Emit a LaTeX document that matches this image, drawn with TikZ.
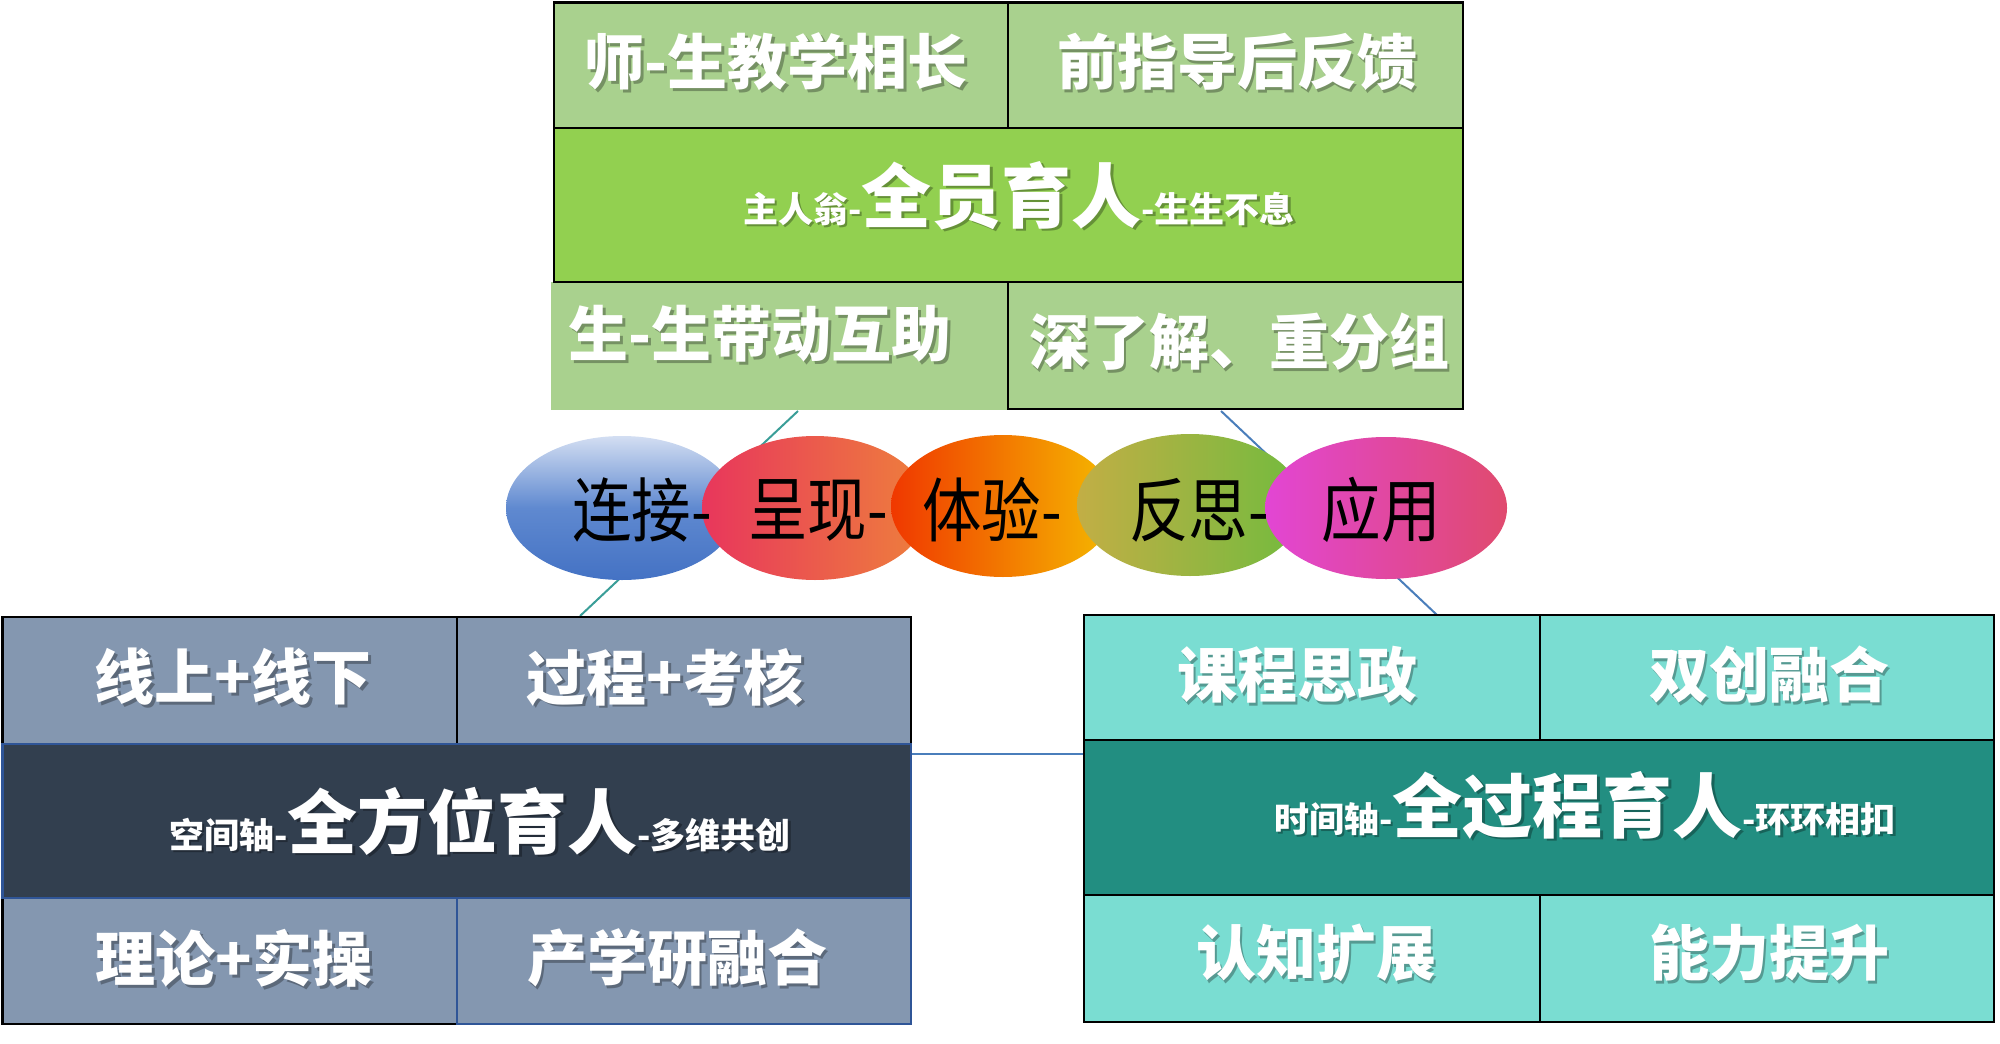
\documentclass[tikz,border=0pt]{standalone}
\usepackage{fontspec}
\newfontfamily\cjk{Noto Sans CJK SC}
\newfontfamily\cjkn[FakeStretch=0.85]{Noto Sans CJK SC}
\usetikzlibrary{shapes.geometric}
\definecolor{lgreen}{HTML}{A9D18E}
\definecolor{mgreen}{HTML}{92D050}
\definecolor{lslate}{HTML}{8497B0}
\definecolor{dslate}{HTML}{323F4F}
\definecolor{lteal}{HTML}{7ADDD2}
\definecolor{dteal}{HTML}{228E81}
\definecolor{lnteal}{HTML}{3A9E98}
\definecolor{lnblue}{HTML}{4A7EBB}
\definecolor{bordblue}{HTML}{2F5597}
\definecolor{bluetop}{HTML}{D3DEF2}
\definecolor{bluemid}{HTML}{5F89D0}
\definecolor{bluebot}{HTML}{4472C4}
\newcommand\smz{\fontsize{17.5}{18}\selectfont}
\newcommand\bgz{\fontsize{35}{36}\selectfont}
\newcommand\shtxt[4][center]{%
  \node[txtshadow,anchor=#1] at ([xshift=1.4pt,yshift=-1.4pt]#3) {#4};
  \node[txtmain,anchor=#1] (#2) at (#3) {#4};}
\tikzset{
  txtmain/.style={inner sep=0pt,text=white,font=\cjk\bfseries\fontsize{30}{31}\selectfont},
  txtshadow/.style={inner sep=0pt,text=black,opacity=0.3,font=\cjk\bfseries\fontsize{30}{31}\selectfont},
  cellb/.style={draw=black,line width=1.2pt},
  ovaltxt/.style={inner sep=0pt,text=black,font=\cjkn\fontsize{35}{36}\selectfont},
  link/.style={line width=1pt}
}
\begin{document}
\begin{tikzpicture}[x=0.5pt,y=-0.5pt]
\useasboundingbox (0,0) rectangle (2000,1043);
\fill[white] (0,0) rectangle (2000,1043);

% connector lines (behind everything)
\coordinate (tl) at (798,411);
\coordinate (bl) at (580,616);
\coordinate (tr) at (1221,411);
\coordinate (br) at (1437,615);
\coordinate (hl) at (911,754);
\coordinate (hr) at (1084,754);
\draw[link,lnteal] (tl) -- (bl);
\draw[link,lnblue] (tr) -- (br);
\draw[link,lnblue] (hl) -- (hr);

% top block
\fill[lgreen] (551,282) rectangle (1008,410);
\filldraw[fill=lgreen,cellb] (554,2.5) rectangle (1008,128);
\filldraw[fill=lgreen,cellb] (1008,2.5) rectangle (1463,128);
\filldraw[fill=mgreen,cellb] (554,128) rectangle (1463,282);
\filldraw[fill=lgreen,cellb] (1008,282) rectangle (1463,409);

% left block
\filldraw[fill=lslate,cellb] (2.5,617) rectangle (457,744);
\filldraw[fill=lslate,cellb] (457,617) rectangle (911,744);
\filldraw[fill=lslate,cellb] (2.5,898) rectangle (457,1024);
\filldraw[fill=lslate,draw=bordblue,line width=1.2pt] (457,898) rectangle (911,1024);
\filldraw[fill=dslate,draw=bordblue,line width=1.2pt] (2.5,744) rectangle (911,898);

% right block
\filldraw[fill=lteal,cellb] (1084,615) rectangle (1540,740);
\filldraw[fill=lteal,cellb] (1540,615) rectangle (1994,740);
\filldraw[fill=dteal,cellb] (1084,740) rectangle (1994,895);
\filldraw[fill=lteal,cellb] (1084,895) rectangle (1540,1022);
\filldraw[fill=lteal,cellb] (1540,895) rectangle (1994,1022);

% ellipses
\shade[top color=bluetop, bottom color=bluebot, middle color=bluemid]
  (622,508) ellipse [x radius=116, y radius=72];
\shade[left color={rgb,255:red,232;green,54;blue,92}, right color={rgb,255:red,238;green,128;blue,60}]
  (815,508) ellipse [x radius=113, y radius=72];
\shade[left color={rgb,255:red,240;green,56;blue,0}, right color={rgb,255:red,245;green,186;blue,0}]
  (1003,506) ellipse [x radius=112, y radius=71];
\shade[left color={rgb,255:red,194;green,174;blue,69}, right color={rgb,255:red,114;green,187;blue,62}]
  (1190,505) ellipse [x radius=113, y radius=71];
\shade[left color={rgb,255:red,226;green,70;blue,212}, right color={rgb,255:red,224;green,74;blue,110}]
  (1386,508) ellipse [x radius=121, y radius=71];

\node[ovaltxt] (o1) at (642,510) {连接-};
\node[ovaltxt] (o2) at (818,510) {呈现-};
\node[ovaltxt] (o3) at (992,510) {体验-};
\node[ovaltxt] (o4) at (1199,510) {反思-};
\node[ovaltxt] (o5) at (1381,510) {应用};

% top texts
\shtxt{t1}{776,62}{师-生教学相长}
\shtxt{t2}{1237,62}{前指导后反馈}
\shtxt[base]{t3}{1019,222}{{\smz 主人翁-}{\bgz 全员育人}{\smz -生生不息}}
\shtxt{t4}{760,334}{生-生带动互助}
\shtxt{t5}{1239,342}{深了解、重分组}

% left texts
\shtxt{l1}{233,677}{线上+线下}
\shtxt{l2}{665,677}{过程+考核}
\shtxt[base]{l3}{480,848}{{\smz 空间轴-}{\bgz 全方位育人}{\smz -多维共创}}
\shtxt{l4}{234,958}{理论+实操}
\shtxt{l5}{677,958}{产学研融合}

% right texts
\shtxt{r1}{1297,675}{课程思政}
\shtxt{r2}{1769,675}{双创融合}
\shtxt[base]{r3}{1585,832}{{\smz 时间轴-}{\bgz 全过程育人}{\smz -环环相扣}}
\shtxt{r4}{1316,953}{认知扩展}
\shtxt{r5}{1769,953}{能力提升}
\end{tikzpicture}
\end{document}
